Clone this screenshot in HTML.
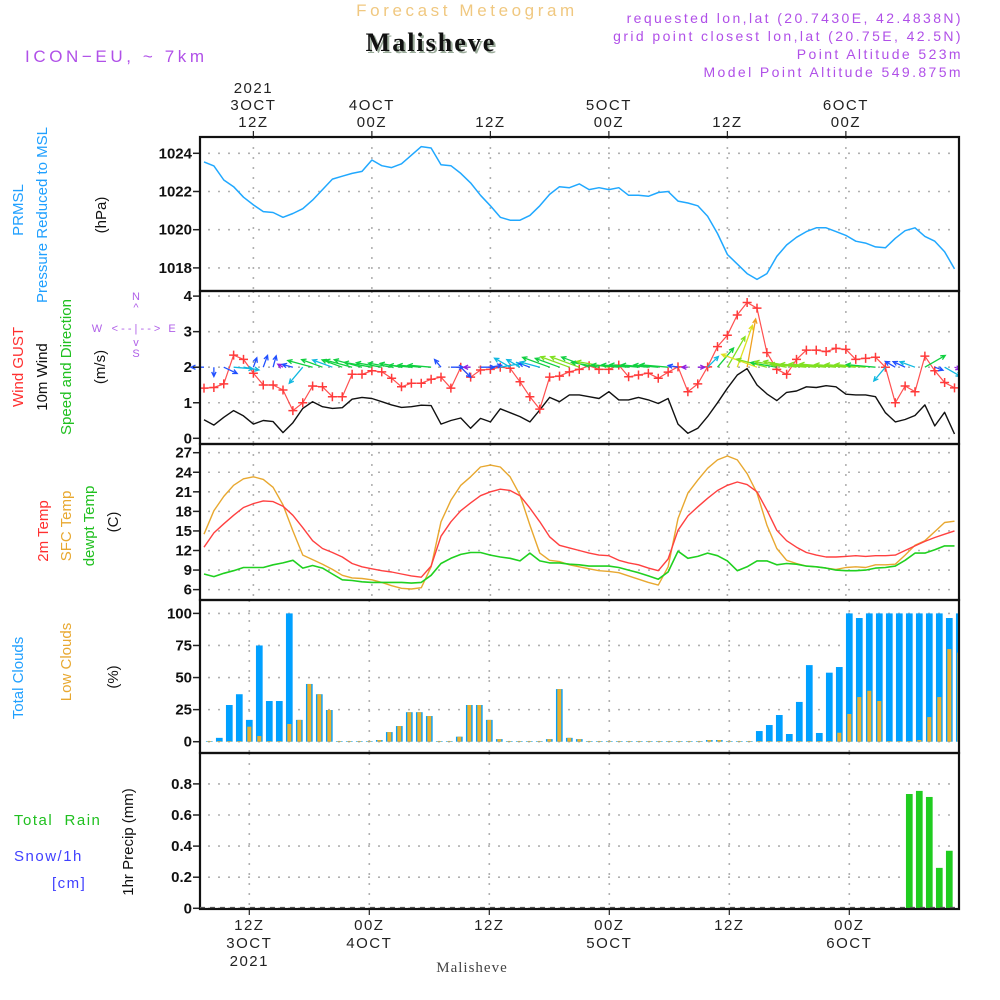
<!DOCTYPE html>
<html><head><meta charset="utf-8"><style>
html,body{margin:0;padding:0;background:#fff;}
svg{display:block;font-family:"Liberation Sans",sans-serif;}
.t{font-size:15px;fill:#222;letter-spacing:1.5px;}
.tk{font-size:15px;fill:#111;font-weight:bold;}
.hd{font-size:14px;fill:#b050e8;letter-spacing:2.4px;}
</style></head><body>
<svg id="chart" width="1000" height="1000" viewBox="0 0 1000 1000">
<!-- header -->
<text x="467" y="16" text-anchor="middle" style="font-size:17px;fill:#f0c880;letter-spacing:3.6px">Forecast Meteogram</text>
<text x="431" y="51" text-anchor="middle" style="font-family:'Liberation Serif',serif;font-size:26px;font-weight:bold;fill:#9a9;letter-spacing:2px" transform="translate(2,2)">Malisheve</text>
<text x="431" y="51" text-anchor="middle" style="font-family:'Liberation Serif',serif;font-size:26px;font-weight:bold;fill:#111;letter-spacing:2px">Malisheve</text>
<text x="25" y="62" style="font-size:17px;fill:#b050e8;letter-spacing:3.6px">ICON−EU, ~ 7km</text>
<text x="963" y="23" text-anchor="end" class="hd">requested lon,lat (20.7430E, 42.4838N)</text>
<text x="963" y="41" text-anchor="end" class="hd">grid point closest lon,lat (20.75E, 42.5N)</text>
<text x="963" y="59" text-anchor="end" class="hd">Point Altitude 523m</text>
<text x="963" y="77" text-anchor="end" class="hd">Model Point Altitude 549.875m</text>

<!-- left labels -->
<g>
<text transform="translate(23,210) rotate(-90)" text-anchor="middle" style="font-size:15px;fill:#20a0ff">PRMSL</text>
<text transform="translate(47,215) rotate(-90)" text-anchor="middle" style="font-size:15px;fill:#20a0ff">Pressure Reduced to MSL</text>
<text transform="translate(106,215) rotate(-90)" text-anchor="middle" style="font-size:15px;fill:#111">(hPa)</text>
</g>
<g>
<text transform="translate(23,367) rotate(-90)" text-anchor="middle" style="font-size:15px;fill:#ff3030">Wind GUST</text>
<text transform="translate(47,377) rotate(-90)" text-anchor="middle" style="font-size:15px;fill:#111">10m Wind</text>
<text transform="translate(71,367) rotate(-90)" text-anchor="middle" style="font-size:15px;fill:#20c020">Speed and Direction</text>
<text transform="translate(105,367) rotate(-90)" text-anchor="middle" style="font-size:15px;fill:#111">(m/s)</text>
</g>
<g style="font-size:11px;fill:#b060e8">
<text x="136" y="300" text-anchor="middle">N</text>
<text x="136" y="311" text-anchor="middle">^</text>
<text x="97" y="332" text-anchor="middle">W</text>
<text x="136" y="332" text-anchor="middle">&lt; - - | - - &gt;</text>
<text x="172" y="332" text-anchor="middle">E</text>
<text x="136" y="346" text-anchor="middle">v</text>
<text x="136" y="357" text-anchor="middle">S</text>
</g>
<g>
<text transform="translate(48,531) rotate(-90)" text-anchor="middle" style="font-size:15px;fill:#ff3030">2m Temp</text>
<text transform="translate(71,526) rotate(-90)" text-anchor="middle" style="font-size:15px;fill:#e8a830">SFC Temp</text>
<text transform="translate(94,526) rotate(-90)" text-anchor="middle" style="font-size:15px;fill:#20c020">dewpt Temp</text>
<text transform="translate(118,522) rotate(-90)" text-anchor="middle" style="font-size:15px;fill:#111">(C)</text>
</g>
<g>
<text transform="translate(23,678) rotate(-90)" text-anchor="middle" style="font-size:15px;fill:#20a0ff">Total Clouds</text>
<text transform="translate(71,662) rotate(-90)" text-anchor="middle" style="font-size:15px;fill:#e8a830">Low Clouds</text>
<text transform="translate(118,677) rotate(-90)" text-anchor="middle" style="font-size:15px;fill:#111">(%)</text>
</g>
<g>
<text transform="translate(133,842) rotate(-90)" text-anchor="middle" style="font-size:15px;fill:#111">1hr Precip (mm)</text>
<text x="14" y="825" style="font-size:15px;fill:#20c020;letter-spacing:1.5px">Total&#160;&#160;Rain</text>
<text x="14" y="861" style="font-size:15px;fill:#4040ff;letter-spacing:1.5px">Snow/1h</text>
<text x="52" y="888" style="font-size:15px;fill:#4040ff;letter-spacing:1.5px">[cm]</text>
</g>
<text transform="translate(983,692) rotate(-90)" text-anchor="middle" style="font-family:'Liberation Serif',serif;font-size:17px;fill:#d8e0d8">by Angel</text>
<text x="472" y="972" text-anchor="middle" style="font-family:'Liberation Serif',serif;font-size:15px;fill:#444;letter-spacing:1px">Malisheve</text>

<g id="grid"></g>
<g id="marks"></g>
<g id="frames"></g>
<g id="labels"></g>
</svg>
<script>
// ---- data ----
const pressure = [1023.55,1023.34,1022.6,1022.25,1021.7,1021.3,1020.95,1020.9,1020.65,1020.85,1021.1,1021.55,1022.1,1022.65,1022.8,1022.95,1023.05,1023.65,1023.35,1023.25,1023.45,1023.9,1024.35,1024.28,1023.4,1023.35,1022.95,1022.45,1021.8,1021.25,1020.65,1020.5,1020.5,1020.75,1021.25,1021.85,1022.25,1022.2,1022.4,1022.1,1022.2,1022.1,1022.2,1021.8,1021.8,1021.75,1021.95,1022.0,1021.5,1021.4,1021.25,1020.7,1019.8,1018.7,1018.2,1017.7,1017.4,1017.7,1018.6,1019.2,1019.6,1019.9,1020.1,1020.1,1019.9,1019.7,1019.4,1019.3,1019.1,1019.05,1019.55,1019.95,1020.1,1019.65,1019.4,1018.85,1017.95];
const wind10 = [0.52,0.37,0.59,0.78,0.63,0.40,0.5,0.47,0.16,0.44,0.84,1.03,0.89,0.84,0.86,1.1,1.15,1.12,1.03,0.94,0.87,0.89,0.93,0.92,0.40,0.5,0.57,0.28,0.56,0.46,0.83,0.72,0.61,0.46,0.8,1.15,1.03,1.22,1.22,1.17,1.12,1.31,1.08,1.08,1.15,1.08,0.98,1.12,0.40,0.14,0.28,0.61,1.0,1.41,1.78,1.96,1.5,1.25,1.06,1.29,1.33,1.45,1.43,1.48,1.45,1.24,1.22,1.22,1.17,0.72,0.46,0.53,0.64,0.94,0.35,0.73,0.12];
const gust = [1.41,1.43,1.53,2.34,2.22,1.83,1.5,1.5,1.36,0.78,1.0,1.47,1.45,1.17,1.17,1.8,1.8,1.9,1.87,1.69,1.45,1.55,1.55,1.66,1.72,1.41,2.0,1.72,1.92,1.94,2.0,1.97,1.59,1.17,0.82,1.72,1.75,1.87,1.94,2.04,1.94,1.94,2.06,1.73,1.78,1.83,1.69,1.86,2.01,1.31,1.53,2.01,2.58,2.9,3.47,3.82,3.66,2.41,1.94,1.8,2.22,2.48,2.48,2.44,2.53,2.5,2.22,2.25,2.28,2.0,1.0,1.47,1.31,2.31,1.9,1.57,1.42];
const windDir = [180,270,-25,-5,-10,70,70,75,150,165,230,165,160,160,160,165,165,170,170,170,170,175,175,175,130,0,-45,180,0,10,10,150,150,160,165,160,160,160,160,160,170,170,175,175,175,175,175,175,170,180,0,45,50,60,70,80,160,165,170,170,170,175,175,175,175,175,175,175,175,230,150,155,160,30,-20,-30,-20];
const temp2m = [12.5,14.7,16.1,17.4,18.6,19.2,19.6,19.5,18.8,17.4,15.5,13.5,12.3,11.7,11.0,10.0,9.5,9.2,8.9,8.7,8.4,8.1,7.9,9.6,14.2,16.4,18.1,19.3,20.4,21.0,21.4,21.2,20.4,18.5,16.4,14.1,12.8,12.4,12.0,11.6,11.3,11.2,10.5,10.1,9.8,9.3,8.9,10.7,15.1,17.3,18.7,20.0,21.2,22.0,22.5,22.1,21.0,18.2,15.1,13.5,12.5,11.7,11.3,11.0,11.0,11.1,11.2,11.1,11.2,11.2,11.3,12.0,12.7,13.4,14.0,14.5,15.0];
const tempSfc = [14.5,18.1,20.3,22.0,23.0,23.3,22.9,21.7,19.0,15.0,11.3,10.6,9.9,9.1,8.2,7.8,7.7,7.5,7.1,6.6,6.2,6.1,6.3,9.5,16.4,19.7,22.0,23.3,24.8,25.1,24.8,23.3,20.5,15.9,11.6,10.5,10.3,9.8,9.5,9.2,8.9,8.8,8.6,8.1,7.6,7.1,6.7,9.5,16.9,20.8,22.8,24.6,25.9,26.5,25.9,23.8,20.8,15.9,12.3,10.5,10.0,9.6,9.5,9.3,9.1,9.4,9.5,9.4,9.8,9.8,9.9,11.3,12.8,13.5,14.9,16.3,16.5];
const dewpt = [8.4,8.0,8.5,8.9,9.4,9.4,9.4,9.8,10.1,10.5,9.3,9.7,9.3,8.4,7.5,7.4,7.2,7.1,7.1,7.1,7.1,7.0,7.1,8.2,10.0,10.8,11.4,11.7,11.7,11.3,11.0,10.8,10.4,11.6,10.4,10.1,10.1,9.9,9.8,9.6,9.6,9.6,9.4,9.0,8.6,8.1,7.6,8.7,11.9,10.8,11.1,11.6,11.2,10.4,8.9,9.5,10.4,10.4,9.8,10.0,9.9,9.6,9.5,9.3,9.0,8.9,8.9,9.0,9.3,9.4,9.6,10.5,11.6,11.6,12.1,12.7,12.7];
const totalClouds = [0.5,3,28.6,37,17,75,31.7,31.7,100,17,45,37,24.7,0.5,0.5,0.5,0.5,1.3,7.5,12.2,23,23,20,0.5,0.5,3.9,28.6,28.6,17,2,0.5,0.5,0.5,0.5,2,41,3,2,0.5,0.5,0.5,0.5,0.5,0.5,0.5,0.5,0.5,0.5,0.5,0.5,1.3,1.3,0.5,0.5,0.5,8.3,13,20.8,6,31,59.7,6.8,53.8,58.2,100,96.4,100,100,100,100,100,100,100,100,96.4,100];
const lowClouds = [0.5,0.5,0.5,0.5,11.7,4.4,0.5,0.5,13.8,17,45,37,24.7,0.5,0.5,0.5,0.5,1.3,7.5,12.2,23,23,20,0.5,0.5,3.9,28.6,28.6,17,2,0.5,0.5,0.5,0.5,2,41,3,2,0.5,0.5,0.5,0.5,0.5,0.5,0.5,0.5,0.5,0.5,0.5,0.5,1.3,1.3,0.5,0.5,0.5,0.5,0.5,0.5,0.5,0.5,0.5,0.5,0.5,7,21.6,34.8,39.7,31.7,0.5,0.5,0.5,1.3,19.2,34.8,72.2,69.4];
const precip = [0,0,0,0,0,0,0,0,0,0,0,0,0,0,0,0,0,0,0,0,0,0,0,0,0,0,0,0,0,0,0,0,0,0,0,0,0,0,0,0,0,0,0,0,0,0,0,0,0,0,0,0,0,0,0,0,0,0,0,0,0,0,0,0,0,0,0,0,0,0,0.735,0.755,0.716,0.26,0.37,0];
const pressTicks = [1018,1020,1022,1024];
const windTicks = [0,1,2,3,4];
const tempTicks = [6,9,12,15,18,21,24,27];
const cloudTicks = [0,25,50,75,100];
const precipTicks = [0,0.2,0.4,0.6,0.8];
const topTimeHours = [5,17,29,41,53,65];
const topTimeLabels = [["2021","3OCT","12Z"],["4OCT","00Z"],["12Z"],["5OCT","00Z"],["12Z"],["6OCT","00Z"]];
const botTimeIdx = [4,16,28,40,52,64];
const botTimeLabels = [["12Z","3OCT","2021"],["00Z","4OCT"],["12Z"],["00Z","5OCT"],["12Z"],["00Z","6OCT"]];

// ---- scales ----
const L=200, R=959;
const xh = h => 204 + h*9.875;
const xb = i => 209.3 + i*10;
const yP = v => 153.3 + (1024-v)*19.1;
const yW = v => 438.3 - v*35.55;
const yT = v => 452.7 + (27-v)*6.52;
const yC = v => 741.7 - v*1.283;
const yR = v => 908.3 - v*155.5;
const panels = [[137,291],[291,444],[444,600],[600,753],[753,909]];

const NS="http://www.w3.org/2000/svg";
function mk(parent, tag, attrs){const e=document.createElementNS(NS,tag);for(const k in attrs)e.setAttribute(k,attrs[k]);parent.appendChild(e);return e;}
const grid=document.getElementById('grid'), marks=document.getElementById('marks'), frames=document.getElementById('frames'), labels=document.getElementById('labels');
const gridStyle={stroke:'#b0b0b0','stroke-width':1.6,'stroke-dasharray':'2 8'};

function hGrid(ticks, yf, fmt, name){
  ticks.forEach(v=>{
    const y=yf(v);
    const g=mk(grid,'line',Object.assign({x1:L+8,x2:R,y1:y,y2:y},gridStyle));
    
    
    const tk=mk(frames,'line',{x1:L-7,x2:L,y1:y,y2:y,stroke:'#222','stroke-width':1.5});
    
    
    const t=mk(labels,'text',{x:L-8,y:y+5,'text-anchor':'end',class:'tk'});
    t.textContent=fmt(v);
    
    
  });
}
hGrid(pressTicks,yP,v=>v,'pressure');
hGrid(windTicks,yW,v=>v,'wind');
hGrid(tempTicks,yT,v=>v,'temp');
hGrid(cloudTicks,yC,v=>v,'cloud');
hGrid(precipTicks,yR,v=>v===0?'0':v.toFixed(1),'precip');

topTimeHours.forEach(h=>{
  for(let p=0;p<3;p++){
    const v=mk(grid,'line',Object.assign({x1:xh(h),x2:xh(h),y1:panels[p][0],y2:panels[p][1]},gridStyle));
    
    
  }
});
botTimeIdx.forEach(i=>{
  for(let p=3;p<5;p++){
    const v=mk(grid,'line',Object.assign({x1:xb(i),x2:xb(i),y1:panels[p][0],y2:panels[p][1]},gridStyle));
    
    
  }
});

topTimeHours.forEach((h,k)=>{
  const lines=topTimeLabels[k];
  lines.forEach((s,j)=>{
    const t=mk(labels,'text',{x:xh(h),y:127-(lines.length-1-j)*17,'text-anchor':'middle',class:'t'});
    t.textContent=s;
    
    
  });
  const tk=mk(frames,'line',{x1:xh(h),x2:xh(h),y1:131,y2:137,stroke:'#222','stroke-width':1.2});
  
  
});
botTimeIdx.forEach((i,k)=>{
  botTimeLabels[k].forEach((s,j)=>{
    const t=mk(labels,'text',{x:xb(i),y:930+j*18,'text-anchor':'middle',class:'t'});
    t.textContent=s;
    
    
  });
  const tk=mk(frames,'line',{x1:xb(i),x2:xb(i),y1:909,y2:915,stroke:'#222','stroke-width':1.2});
  
  
});

function line(arr, yf, color, name, w){
  const pts=arr.map((v,h)=>xh(h).toFixed(1)+','+yf(v).toFixed(1)).join(' ');
  const p=mk(marks,'polyline',{points:pts,fill:'none',stroke:color,'stroke-width':w||1.4,'stroke-linejoin':'round'});
  
  
}
line(pressure,yP,'#20a8ff','pressure-line',1.5);
line(wind10,yW,'#111','wind-speed-line',1.4);
line(gust,yW,'#ff5050','wind-gust-line',1.2);
gust.forEach((v,h)=>{
  const x=xh(h), y=yW(v);
  const c=mk(marks,'path',{d:`M${x-4.5} ${y}H${x+4.5}M${x} ${y-4.5}V${y+4.5}`,stroke:'#ff3a3a','stroke-width':1.5});
  
  
});
function spdColor(s){
  if(s<0.3) return '#9020e0';
  if(s<0.6) return '#2050ff';
  if(s<0.85) return '#10b8e0';
  if(s<1.2) return '#10d040';
  if(s<1.5) return '#80e020';
  if(s<1.8) return '#e0e020';
  return '#f0a020';
}
windDir.forEach((d,h)=>{
  const s=wind10[h], len=Math.max(6,s*25), a=d*Math.PI/180;
  const x0=xh(h), y0=yW(2);
  const x1=x0+len*Math.cos(a), y1=y0-len*Math.sin(a);
  const hl=5, b1=a+Math.PI-0.45, b2=a+Math.PI+0.45;
  const col=spdColor(s);
  const ar=mk(marks,'path',{d:`M${x0} ${y0}L${x1} ${y1}M${x1+hl*Math.cos(b1)} ${y1-hl*Math.sin(b1)}L${x1} ${y1}L${x1+hl*Math.cos(b2)} ${y1-hl*Math.sin(b2)}`,stroke:col,'stroke-width':1.3,fill:'none'});
  
  
});
line(tempSfc,yT,'#e8a830','sfc-temp-line',1.4);
line(temp2m,yT,'#ff4040','temp-2m-line',1.4);
line(dewpt,yT,'#20d020','dewpoint-line',1.6);

totalClouds.forEach((v,i)=>{
  const x=xb(i), w=6.7, y=yC(v);
  const r=mk(marks,'rect',{x:x-w/2,y:y,width:w,height:yC(0)-y,fill:'#00a0ff'});
  
  
});
lowClouds.forEach((v,i)=>{
  const x=xb(i), w=4, y=yC(v);
  const r=mk(marks,'rect',{x:x-w/2,y:y,width:w,height:yC(0)-y,fill:'#e8b030'});
  
  
});
precip.forEach((v,i)=>{
  if(v<=0) return;
  const x=xb(i), w=6.7, y=yR(v);
  const r=mk(marks,'rect',{x:x-w/2,y:y,width:w,height:yR(0)-y,fill:'#20cc20'});
  
  
});
const cov=mk(marks,'rect',{x:R+1,y:130,width:30,height:790,fill:'#fff'});



panels.forEach(([t,b],k)=>{
  const r=mk(frames,'rect',{x:L,y:t,width:R-L,height:b-t,fill:'none',stroke:'#111','stroke-width':2.2});
  
  
});
const dash=mk(frames,'line',{x1:L,x2:R,y1:907.5,y2:907.5,stroke:'#555','stroke-width':1.2,'stroke-dasharray':'5 5'});


</script>
</body></html>
